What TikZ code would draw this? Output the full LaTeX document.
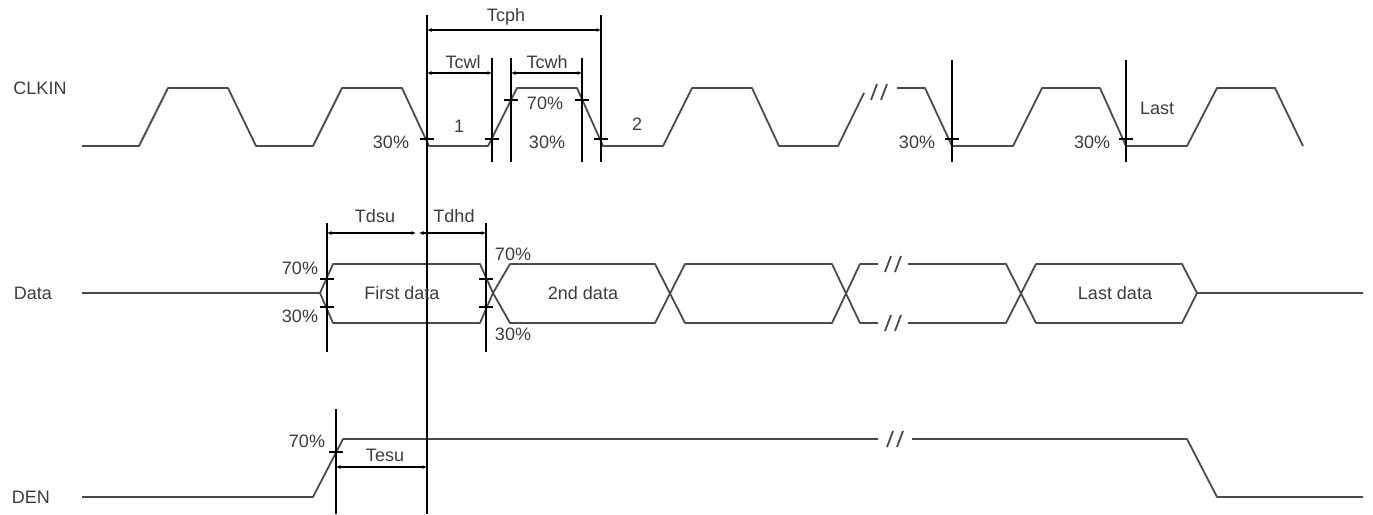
\documentclass[tikz,border=0pt]{standalone}
\usepackage{fontspec}
\setmainfont{Liberation Sans}
\usetikzlibrary{arrows.meta}

\definecolor{wavegray}{RGB}{75,75,75}
\definecolor{textgray}{RGB}{60,60,60}

\tikzset{
	wave/.style={line width=1.8pt, draw=wavegray, line join=round},
	marker/.style={line width=1.7pt, draw=black},
	dim/.style={line width=1.2pt, {Latex[length=4.5pt,width=4pt]}-{Latex[length=4.5pt,width=4pt]}},
	lbl/.style={font=\fontsize{18}{20}\selectfont, text=textgray, inner sep=1pt}
}

% break sign on a line
\newcommand{\brk}[2]{\draw[wave] (#1-8,#2+8) -- (#1-2,#2-8) (#1+2,#2+8) -- (#1+8,#2-8);}

\begin{document}
\begin{tikzpicture}[x=1pt,y=-1pt]
	\useasboundingbox (0,0) rectangle (1373,514);

	% Signal names
	\node[lbl] (clkin) at (40,88) {CLKIN};
	\node[lbl] (data) at (33,293) {Data};
	\node[lbl] (den) at (31,497) {DEN};

	% CLKIN waveform
	\draw[wave] (82,146) -- (139,146) -- (168,88) -- (228,88) -- (256,146) -- (313,146)
		-- (342,88) -- (402,88) -- (429,146) -- (488,146) -- (517,88) -- (577,88)
		-- (603,146) -- (663,146) -- (692,88) -- (752,88) -- (779,146) -- (838,146) -- (864,93);
	\brk{879}{92}
	\draw[wave] (897,88) -- (925,88) -- (952,146) -- (1013,146) -- (1042,88) -- (1100,88)
		-- (1126,146) -- (1187,146) -- (1217,88) -- (1275,88) -- (1303,146);

	% Data waveform
	\draw[wave] (82,293) -- (320,293) -- (333,264) -- (480,264) -- (493,293) -- (480,323)
		-- (333,323) -- (320,293);
	\draw[wave] (493,293) -- (510,264) -- (655,264) -- (685,323) -- (832,323) -- (860,264) -- (878,264);
	\draw[wave] (493,293) -- (510,323) -- (655,323) -- (685,264) -- (832,264) -- (860,323) -- (878,323);
	\brk{893}{264}
	\brk{893}{323}
	\draw[wave] (908,264) -- (1006,264) -- (1036,323) -- (1182,323) -- (1197,293) -- (1363,293);
	\draw[wave] (908,323) -- (1006,323) -- (1036,264) -- (1182,264) -- (1197,293);

	% DEN waveform
	\draw[wave] (82,497) -- (313,497) -- (343,439) -- (878,439);
	\brk{895}{439}
	\draw[wave] (912,439) -- (1187,439) -- (1217,497) -- (1363,497);

	% Reference lines
	\draw[marker] (427,15) -- (427,514);
	\draw[marker] (601,15) -- (601,162);
	\draw[marker] (492,58) -- (492,162);
	\draw[marker] (511,58) -- (511,162);
	\draw[marker] (582,58) -- (582,162);
	\draw[marker] (952,60) -- (952,162);
	\draw[marker] (1126,60) -- (1126,162);
	\draw[marker] (327,223) -- (327,352);
	\draw[marker] (486,223) -- (486,352);
	\draw[marker] (336,409) -- (336,514);

	% Level ticks
	\foreach \x/\y in {427/139, 492/139, 511/100, 582/100, 601/139, 952/139, 1126/139,
		327/279, 327/307, 486/279, 486/307, 336/452}
		\draw[marker] (\x-7,\y) -- (\x+7,\y);

	% Timing arrows
	\draw[dim] (427,30) -- (601,30);
	\draw[dim] (427,73) -- (492,73);
	\draw[dim] (511,73) -- (582,73);
	\draw[dim] (327,233) -- (416,233);
	\draw[dim] (419,233) -- (486,233);
	\draw[dim] (336,467) -- (427,467);

	% Timing names
	\node[lbl] (tcph) at (506,17) {Tcph};
	\node[lbl] (tcwl) at (463,62) {Tcwl};
	\node[lbl] (tcwh) at (547,62) {Tcwh};
	\node[lbl] (tdsu) at (375,216) {Tdsu};
	\node[lbl] (tdhd) at (454,216) {Tdhd};
	\node[lbl] (tesu) at (385,455) {Tesu};

	% Level and cycle labels
	\node[lbl] (lvla) at (391,142) {30\%};
	\node[lbl] (cyca) at (459,126) {1};
	\node[lbl] (lvlb) at (545,103) {70\%};
	\node[lbl] (lvlc) at (547,142) {30\%};
	\node[lbl] (cycb) at (637,124) {2};
	\node[lbl] (lvld) at (917,142) {30\%};
	\node[lbl] (lvle) at (1092,142) {30\%};
	\node[lbl] (cycl) at (1157,108) {Last};
	\node[lbl] (lvlf) at (300,268) {70\%};
	\node[lbl] (lvlg) at (300,316) {30\%};
	\node[lbl] (lvlh) at (513,254) {70\%};
	\node[lbl] (lvli) at (513,334) {30\%};
	\node[lbl] (lvlj) at (307,441) {70\%};

	% Data words
	\node[lbl] (first) at (402,293) {First data};
	\node[lbl] (second) at (583,293) {2nd data};
	\node[lbl] (last) at (1115,293) {Last data};
\end{tikzpicture}
\end{document}
